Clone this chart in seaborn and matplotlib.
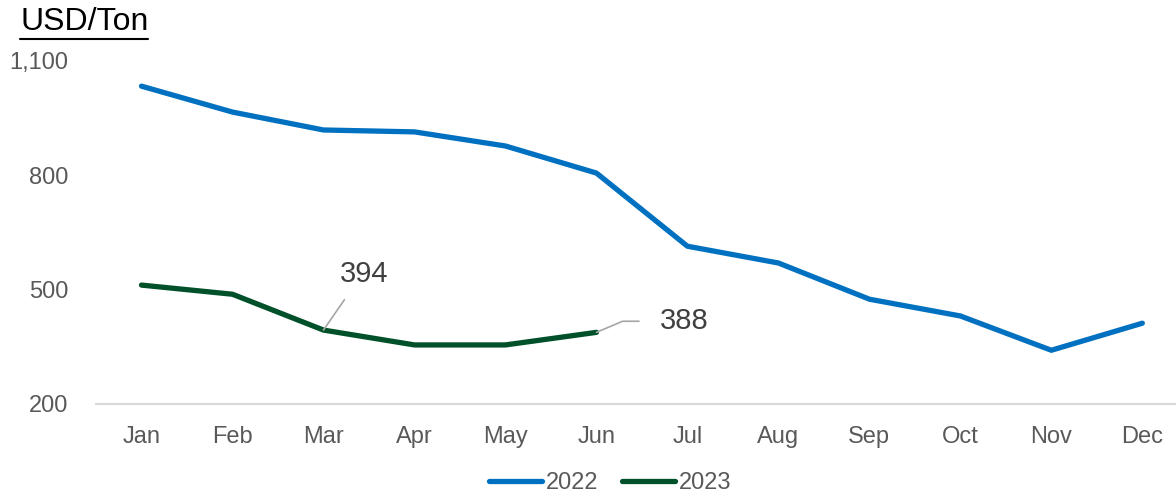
import matplotlib
matplotlib.use("Agg")
import matplotlib.pyplot as plt
import seaborn as sns
import pandas as pd
from matplotlib.lines import Line2D

months = ["Jan", "Feb", "Mar", "Apr", "May", "Jun", "Jul", "Aug", "Sep", "Oct", "Nov", "Dec"]
values_2022 = [1034, 966, 919, 914, 877, 806, 614, 570, 475, 431, 341, 412]
values_2023 = [512, 488, 394, 355, 355, 388]
yticks = [200, 500, 800, 1100]

sns.set_theme(style="white")
plt.rcParams["font.family"] = ["Liberation Sans", "DejaVu Sans"]

df = pd.concat([
    pd.DataFrame({"x": range(len(values_2022)), "price": values_2022, "year": "2022"}),
    pd.DataFrame({"x": range(len(values_2023)), "price": values_2023, "year": "2023"}),
])

fig = plt.figure(figsize=(11.76, 4.92), dpi=100)
ax = fig.add_axes([96 / 1176, 1 - 404 / 492, 1 - 96 / 1176, (404 - 61) / 492])

palette = {"2022": "#0070C0", "2023": "#00502A"}
sns.lineplot(data=df, x="x", y="price", hue="year", palette=palette, linewidth=3.8,
             ax=ax, legend=False, solid_capstyle="round")

ax.set_xlim(-0.5, 11.37)
ax.set_ylim(200, 1100)
ax.set_yticks(yticks)
ax.set_yticklabels([f"{v:,}" for v in yticks])
ax.set_xticks(range(len(months)))
ax.set_xticklabels(months)
ax.tick_params(axis="both", colors="#595959", labelsize=17, length=0)
ax.tick_params(axis="x", pad=16)
ax.tick_params(axis="y", pad=20)
for s in ["top", "right", "left"]:
    ax.spines[s].set_visible(False)
ax.spines["bottom"].set_color("#D9D9D9")
ax.spines["bottom"].set_linewidth(1.5)
ax.set_xlabel("")
ax.set_ylabel("")

# annotations
ax.annotate(f"{values_2023[2]}", xy=(2, values_2023[2]), xytext=(12, 30), textcoords="offset points",
            fontsize=21, color="#404040", ha="left", va="bottom",
            arrowprops=dict(arrowstyle="-", color="#A6A6A6", lw=1.2, shrinkA=7, shrinkB=0,
                            relpos=(0.25, 0.0)))
ax.annotate(f"{values_2023[5]}", xy=(5, values_2023[5]), xytext=(46, 8), textcoords="offset points",
            fontsize=21, color="#404040", ha="left", va="center",
            arrowprops=dict(arrowstyle="-", color="#A6A6A6", lw=1.2, shrinkA=13, shrinkB=0,
                            relpos=(0.0, 0.5),
                            connectionstyle="angle,angleA=0,angleB=23,rad=0"))

# title
fig.text(20 / 1176, 1 - 22 / 492, "USD/Ton", fontsize=23, color="#000000", va="center", ha="left")
fig.add_artist(Line2D([20 / 1176, 148 / 1176], [1 - 39 / 492, 1 - 39 / 492], color="black", lw=1.5))

# legend
handles = [Line2D([], [], color=palette["2022"], lw=3.8, solid_capstyle="round"),
           Line2D([], [], color=palette["2023"], lw=3.8, solid_capstyle="round")]
fig.legend(handles, ["2022", "2023"], loc="center", bbox_to_anchor=(610 / 1176, 1 - 483 / 492),
           ncol=2, frameon=False, fontsize=17, handlelength=2.25, handletextpad=0.15,
           columnspacing=1.0, labelcolor="#595959")

fig.savefig("out.png", dpi=100)
